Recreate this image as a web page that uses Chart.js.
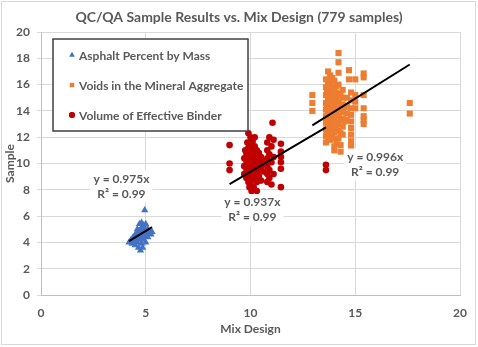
<!DOCTYPE html>
<html>
<head>
<meta charset="utf-8">
<script src="https://cdn.jsdelivr.net/npm/chart.js@4"></script>
<style>
  html, body { margin: 0; padding: 0; background: #fff; }
</style>
</head>
<body>
<canvas id="mixChart" width="478" height="347"></canvas>
<script>
const seriesNames = [
  "Asphalt Percent by Mass",
  "Voids in the Mineral Aggregate",
  "Volume of Effective Binder",
];
const seriesColors = ["#4472C4", "#ED7D31", "#C00000"];

// [mix design, sample]
const asphaltPoints = [
  [4.2, 4.0], [4.3, 4.2], [4.35, 3.9], [4.4, 4.4], [4.45, 4.1], [4.5, 4.6], [4.5, 3.8],
  [4.55, 4.3], [4.6, 5.0], [4.6, 4.7], [4.6, 4.0], [4.65, 3.6], [4.7, 5.4], [4.7, 4.9],
  [4.7, 4.5], [4.7, 4.2], [4.75, 3.4], [4.8, 5.5], [4.8, 5.1], [4.8, 4.8], [4.8, 4.4],
  [4.8, 3.9], [4.85, 3.6], [4.9, 5.3], [4.9, 5.0], [4.9, 4.6], [4.9, 4.2], [4.95, 6.45],
  [5.0, 5.4], [5.0, 4.9], [5.0, 4.5], [5.0, 4.0], [5.05, 4.7], [5.1, 5.0], [5.1, 4.4],
  [5.2, 4.8], [5.25, 4.6], [5.3, 4.8],
];

const vmaPoints = [
  [12.95, 15.2], [12.95, 14.6], [12.95, 14.0],
  [13.6, 16.4], [13.6, 15.8], [13.6, 15.2], [13.6, 14.6], [13.6, 14.1], [13.6, 13.6],
  [13.6, 13.1], [13.6, 12.6], [13.6, 12.1], [13.6, 11.6],
  [13.65, 15.5], [13.65, 14.35], [13.65, 13.35], [13.65, 12.35],
  [13.7, 17.0], [13.7, 16.0], [13.7, 15.0], [13.7, 14.0], [13.7, 13.0], [13.7, 12.0],
  [13.75, 16.35], [13.75, 15.25], [13.75, 14.7], [13.75, 13.65], [13.75, 12.55],
  [13.8, 16.7], [13.8, 16.1], [13.8, 15.5], [13.8, 14.9], [13.8, 14.4], [13.8, 13.9],
  [13.8, 13.4], [13.8, 12.8], [13.8, 12.3], [13.8, 11.8],
  [13.9, 16.5], [13.9, 15.8], [13.9, 15.3], [13.9, 14.8], [13.9, 14.3], [13.9, 13.7],
  [13.9, 13.2], [13.9, 12.6], [13.9, 12.1],
  [14.0, 16.3], [14.0, 15.7], [14.0, 15.1], [14.0, 14.6], [14.0, 14.1], [14.0, 13.5],
  [14.0, 12.9], [14.0, 12.4], [14.0, 11.9], [14.0, 11.3], [14.0, 11.0],
  [14.1, 15.9], [14.1, 15.4], [14.1, 14.8], [14.1, 14.2], [14.1, 13.7], [14.1, 13.1],
  [14.1, 12.6], [14.1, 11.5],
  [14.2, 18.4], [14.2, 17.7], [14.2, 16.9], [14.2, 16.0], [14.2, 15.2], [14.2, 14.7],
  [14.2, 14.1], [14.2, 13.6], [14.2, 13.0], [14.2, 12.5], [14.2, 11.9], [14.3, 11.4], [14.3, 10.9],
  [14.3, 15.3], [14.3, 14.4], [14.3, 13.3], [14.3, 12.3],
  [14.4, 15.6], [14.4, 15.0], [14.4, 14.5], [14.4, 13.9], [14.4, 13.4], [14.4, 12.8], [14.4, 12.2],
  [14.5, 14.3], [14.5, 13.2],
  [14.6, 15.0], [14.6, 14.4], [14.6, 13.8], [14.6, 13.3],
  [14.7, 17.1], [14.7, 16.4],
  [14.8, 15.4], [14.8, 14.8], [14.8, 14.2], [14.8, 13.7], [14.8, 13.2], [14.8, 12.7],
  [14.8, 12.2], [14.8, 11.7], [14.8, 11.3],
  [15.0, 16.4], [15.0, 15.2], [15.0, 14.7], [15.0, 14.2],
  [15.4, 16.85], [15.4, 16.55], [15.4, 15.2], [15.4, 14.2], [15.4, 13.6], [15.4, 13.3], [15.4, 13.0],
  [17.6, 14.6], [17.6, 13.8],
];

const vbePoints = [
  [9.0, 11.4], [9.0, 10.0], [9.0, 9.5], [9.9, 12.3], [11.05, 13.1],
  [9.7, 10.4], [9.7, 9.8], [9.7, 9.2], [9.75, 11.0], [9.8, 10.8], [9.8, 10.2], [9.8, 9.6],
  [9.8, 8.9], [9.85, 11.6], [9.9, 11.2], [9.9, 10.6], [9.9, 10.0], [9.9, 9.4], [9.9, 8.6],
  [9.95, 8.2], [10.0, 12.0], [10.0, 11.4], [10.0, 10.9], [10.0, 10.3], [10.0, 9.8],
  [10.0, 9.1], [10.0, 8.5], [10.05, 7.9], [10.1, 11.7], [10.1, 11.1], [10.1, 10.5],
  [10.1, 10.0], [10.1, 9.5], [10.1, 8.8], [10.15, 8.2], [10.2, 12.0], [10.2, 11.3],
  [10.2, 10.7], [10.2, 10.2], [10.2, 9.6], [10.2, 9.0], [10.3, 11.0], [10.3, 10.4],
  [10.3, 9.9], [10.3, 9.3], [10.3, 8.6], [10.3, 7.9], [10.4, 10.8], [10.4, 10.1],
  [10.4, 9.6], [10.4, 9.0], [10.5, 10.5], [10.5, 9.8], [10.5, 8.7], [10.6, 10.2], [10.6, 9.4],
  [10.8, 11.6], [10.8, 11.0], [10.8, 10.4], [10.8, 9.8], [10.8, 9.2], [10.8, 8.6],
  [10.9, 12.0], [10.9, 10.7], [10.9, 9.5], [10.9, 8.9], [11.0, 11.3], [11.0, 10.1],
  [11.0, 8.4], [11.1, 11.8], [11.1, 10.5], [11.1, 9.2],
  [11.45, 11.5], [11.45, 10.9], [11.45, 10.5], [11.45, 10.1], [11.45, 9.6], [11.45, 8.2],
  [13.6, 9.9], [13.6, 9.5],
];

// linear fits through the origin: slope, R², x range
const trendSlopes = [0.975, 0.996, 0.937];
const trendR2 = [0.99, 0.99, 0.99];
const trendRanges = [[4.2, 5.3], [12.95, 17.6], [9.0, 13.6]];

const xTicks = [0, 5, 10, 15, 20];
const yTicks = [0, 2, 4, 6, 8, 10, 12, 14, 16, 18, 20];

// where each fit label sits, in axis units
const labelSpots = [[3.84, 8.25], [15.95, 9.92], [10.09, 6.46]];

const FONT = "Lato, 'Open Sans', sans-serif";
const GREY = "#595959";

const toXY = (pts) => pts.map((p) => ({ x: p[0], y: p[1] }));
const trendLine = (i) =>
  trendRanges[i].map((x) => ({ x: x, y: trendSlopes[i] * x }));

const markerStyles = ["triangle", "rect", "circle"];
const markerRadius = [4.2, 4.3, 3.3];

const textPlugin = {
  id: "textPlugin",
  beforeDraw(chart) {
    const c = chart.ctx;
    c.save();
    c.fillStyle = "#fff";
    c.fillRect(0, 0, chart.width, chart.height);
    c.strokeStyle = "#D9D9D9";
    c.lineWidth = 1;
    c.strokeRect(1.5, 1.5, 474, 343);
    c.restore();
  },
  afterDatasetsDraw(chart) {
    const c = chart.ctx;
    const xs = chart.scales.x;
    const ys = chart.scales.y;
    c.save();
    c.font = "bold 12px " + FONT;
    c.textAlign = "center";
    c.textBaseline = "middle";
    labelSpots.forEach((spot, i) => {
      const px = xs.getPixelForValue(spot[0]);
      const py = ys.getPixelForValue(spot[1]);
      const l1 = "y = " + trendSlopes[i].toFixed(3) + "x";
      const l2 = "R\u00B2 = " + trendR2[i].toFixed(2);
      const w = Math.max(c.measureText(l1).width, c.measureText(l2).width) + 6;
      c.fillStyle = "#fff";
      c.fillRect(px - w / 2, py - 16, w, 32);
      c.fillStyle = GREY;
      c.fillText(l1, px, py - 7.5);
      c.fillText(l2, px, py + 7.5);
    });
    c.restore();
  },
  afterDraw(chart) {
    const c = chart.ctx;
    c.save();
    c.fillStyle = GREY;
    c.textAlign = "center";
    c.textBaseline = "middle";
    c.font = "bold 14px " + FONT;
    c.fillText("QC/QA Sample Results vs. Mix Design (779 samples)", 239, 17);

    // legend box
    c.fillStyle = "#fff";
    c.fillRect(53, 39, 195, 92);
    c.strokeStyle = "#404040";
    c.lineWidth = 1.5;
    c.strokeRect(53, 39, 195, 92);
    c.font = "bold 12px " + FONT;
    c.textAlign = "left";
    seriesNames.forEach((name, i) => {
      const y = 55 + i * 30;
      c.fillStyle = seriesColors[i];
      Chart.helpers.drawPoint(c, { pointStyle: markerStyles[i], radius: 3, rotation: 0, borderWidth: 0 }, 72, y);
      c.fill();
      c.fillStyle = GREY;
      c.fillText(name, 79, y + 1);
    });
    c.restore();
  },
};

const ctx = document.getElementById("mixChart").getContext("2d");

const pointSets = [asphaltPoints, vmaPoints, vbePoints];
const datasets = [];
pointSets.forEach((pts, i) => {
  datasets.push({
    type: "line",
    label: "fit " + seriesNames[i],
    data: trendLine(i),
    borderColor: "#000",
    borderWidth: 2,
    pointRadius: 0,
    fill: false,
    order: 0,
  });
});
pointSets.forEach((pts, i) => {
  datasets.push({
    label: seriesNames[i],
    data: toXY(pts),
    pointStyle: markerStyles[i],
    pointRadius: markerRadius[i],
    backgroundColor: seriesColors[i],
    borderWidth: 0,
    order: 1,
  });
});

window.mixChart = new Chart(ctx, {
  type: "scatter",
  data: { datasets: datasets },
  plugins: [textPlugin],
  options: {
    responsive: false,
    animation: false,
    layout: { padding: { left: 0, top: 32, right: 13, bottom: 8 } },
    plugins: {
      legend: { display: false },
      tooltip: { enabled: false },
    },
    scales: {
      x: {
        type: "linear",
        min: 0,
        max: 20,
        afterBuildTicks: (scale) => {
          scale.ticks = xTicks.map((v) => ({ value: v }));
        },
        afterFit: (scale) => {
          scale.height = 44;
        },
        grid: { color: "#D9D9D9", drawTicks: false },
        border: { color: "#BFBFBF" },
        ticks: {
          padding: 11,
          color: GREY,
          font: { family: FONT, size: 12, weight: "bold" },
        },
        title: {
          display: true,
          text: "Mix Design",
          color: GREY,
          padding: { top: 0, bottom: 3 },
          font: { family: FONT, size: 12, weight: "bold" },
        },
      },
      y: {
        type: "linear",
        min: 0,
        max: 20,
        afterBuildTicks: (scale) => {
          scale.ticks = yTicks.map((v) => ({ value: v }));
        },
        afterFit: (scale) => {
          scale.width = 41;
        },
        grid: { color: "#D9D9D9", tickLength: 4 },
        border: { color: "#BFBFBF" },
        ticks: {
          padding: 7,
          color: GREY,
          font: { family: FONT, size: 12, weight: "bold" },
        },
        title: {
          display: true,
          text: "Sample",
          color: GREY,
          padding: { top: 3, bottom: 0 },
          font: { family: FONT, size: 12, weight: "bold" },
        },
      },
    },
  },
});
</script>
</body>
</html>
